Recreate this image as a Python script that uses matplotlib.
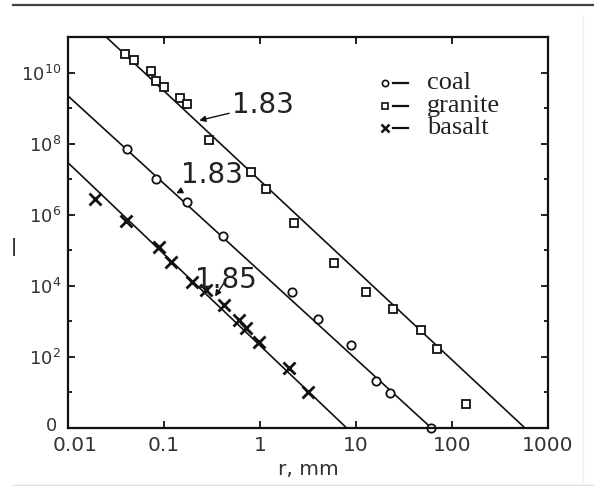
import matplotlib
matplotlib.use("Agg")
import matplotlib.pyplot as plt
import matplotlib.transforms as mtransforms
from matplotlib.lines import Line2D
from matplotlib.ticker import FixedLocator, NullFormatter

# ---- data ----
granite_r = [0.0396, 0.049, 0.0738, 0.083, 0.101, 0.148, 0.175, 0.295, 0.81, 1.15,
             2.25, 5.9, 12.6, 24, 47, 69, 141]
granite_n = [3.4e10, 2.3e10, 1.1e10, 5.6e9, 3.8e9, 1.9e9, 1.3e9, 1.3e8, 1.6e7, 5.4e6,
             5.9e5, 4.4e4, 6.8e3, 2.2e3, 5.8e2, 1.7e2, 4.8]
coal_r = [0.0416, 0.083, 0.175, 0.41, 2.15, 4.0, 8.8, 16, 22.4, 61]
coal_n = [7.2e7, 1.0e7, 2.3e6, 2.6e5, 6.8e3, 1.2e3, 2.2e2, 21, 9.7, 1]
basalt_r = [0.0189, 0.0406, 0.0893, 0.119, 0.197, 0.275, 0.423, 0.605, 0.716, 0.977, 2.0, 3.2]
basalt_n = [2.8e6, 6.8e5, 1.2e5, 4.8e4, 1.3e4, 7.7e3, 2.9e3, 1.1e3, 6.5e2, 2.6e2, 49, 10]

granite_fit_r = [0.025, 575]
granite_fit_n = [1e11, 1]
coal_fit_r = [0.01, 61]
coal_fit_n = [2.2e9, 1]
basalt_fit_r = [0.01, 8]
basalt_fit_n = [2.9e7, 1]

slope_labels = ["1.83", "1.83", "1.85"]
legend_labels = ["coal", "granite", "basalt"]

x_ticks = [0.01, 0.1, 1, 10, 100, 1000]
x_ticklabels = ["0.01", "0.1", "1", "10", "100", "1000"]
y_ticks = [1, 1e2, 1e4, 1e6, 1e8, 1e10]
y_ticklabels = ["0", "$10^{2}$", "$10^{4}$", "$10^{6}$", "$10^{8}$", "$10^{10}$"]
y_minor = [1e1, 1e3, 1e5, 1e7, 1e9]
x_label = "r, mm"

# ---- figure ----
W, H = 594, 486
fig = plt.figure(figsize=(W / 100, H / 100), dpi=100)
fig.patch.set_facecolor("white")
ax = fig.add_axes([68 / W, 1 - 428 / H, (548 - 68) / W, (428 - 37) / H])
ax.set_xscale("log")
ax.set_yscale("log")
ax.set_xlim(0.01, 1000)
ax.set_ylim(1, 1e11)

lc = "#111111"
ax.plot(granite_fit_r, granite_fit_n, color=lc, lw=1.2)
ax.plot(coal_fit_r, coal_fit_n, color=lc, lw=1.2)
ax.plot(basalt_fit_r, basalt_fit_n, color=lc, lw=1.2)

ax.plot(granite_r, granite_n, "s", ms=6, mfc="white", mec=lc, mew=1.3, clip_on=False)
ax.plot(coal_r, coal_n, "o", ms=6, mfc="white", mec=lc, mew=1.3, clip_on=False)
ax.plot(basalt_r, basalt_n, "x", ms=8, mec=lc, mew=2.0, clip_on=False)

# slope annotations
arrow = dict(arrowstyle="-|>", color=lc, lw=1.0, mutation_scale=9, shrinkA=0, shrinkB=0)
ax.annotate(slope_labels[0], xy=(0.233, 4.5e8), xytext=(0.51, 1.2e9),
            fontsize=20, va="center", ha="left", color="#222222",
            arrowprops=arrow)
ax.annotate(slope_labels[1], xy=(0.134, 4.0e6), xytext=(0.152, 1.3e7),
            fontsize=20, va="center", ha="left", color="#222222",
            arrowprops=arrow)
ax.annotate(slope_labels[2], xy=(0.34, 5.0e3), xytext=(0.21, 1.44e4),
            fontsize=20, va="center", ha="left", color="#222222",
            arrowprops=arrow)

# axes styling
ax.xaxis.set_major_locator(FixedLocator(x_ticks))
ax.set_xticklabels(x_ticklabels)
ax.xaxis.set_minor_locator(FixedLocator([]))
ax.yaxis.set_major_locator(FixedLocator(y_ticks))
ax.set_yticklabels(y_ticklabels)
ax.yaxis.set_minor_locator(FixedLocator(y_minor))
ax.yaxis.set_minor_formatter(NullFormatter())
ax.tick_params(which="major", direction="in", length=5, width=1.3, color=lc,
               labelsize=13, labelcolor="#333333", top=True, right=True)
ax.tick_params(axis="x", which="major", pad=6, labelsize=14.5)
ax.tick_params(axis="y", which="major", pad=5)
ax.tick_params(which="minor", direction="in", length=3, width=1.3, color=lc, right=True)
for s in ax.spines.values():
    s.set_linewidth(1.6)
    s.set_color(lc)
ax.set_xlabel(x_label, fontsize=14.5, color="#333333", labelpad=3)

# nudge the two corner labels apart, as in the scan
first_x = ax.get_xticklabels()[0]
first_x.set_transform(first_x.get_transform() +
                      mtransforms.ScaledTranslation(7 / 100, 0, fig.dpi_scale_trans))
first_y = ax.get_yticklabels()[0]
first_y.set_transform(first_y.get_transform() +
                      mtransforms.ScaledTranslation(-4 / 100, 4 / 100, fig.dpi_scale_trans))

# legend (drawn by hand to mimic "o- coal")
legend_markers = [("o", 4.5, 1.2), ("s", 4.5, 1.2), ("x", 5.5, 1.8)]
rows_y = [0.882, 0.824, 0.768]
for (m, ms, mew), lab, yy in zip(legend_markers, legend_labels, rows_y):
    ax.plot([0.660], [yy], m, ms=ms, mfc="white", mec=lc, mew=mew, transform=ax.transAxes)
    ax.plot([0.678, 0.708], [yy, yy], color=lc, lw=1.6, transform=ax.transAxes)
    ax.text(0.748, yy, lab, transform=ax.transAxes, fontsize=19,
            family="Liberation Serif", va="center", ha="left", color="#222222")

# clipped y label fragment and scan borders
fig.text(14 / W, 1 - 247 / H, "|", fontsize=12, fontweight="bold",
         ha="center", va="center", color="#333333")
fig.add_artist(Line2D([13 / W, 1], [1 - 5 / H, 1 - 5 / H], transform=fig.transFigure,
                      color="#444444", lw=1.6))
fig.add_artist(Line2D([13 / W, 1], [1 - 485 / H, 1 - 485 / H], transform=fig.transFigure,
                      color="#dddddd", lw=1.0))
fig.add_artist(Line2D([583 / W, 583 / W], [1 - 485 / H, 1 - 15 / H], transform=fig.transFigure,
                      color="#eeeeee", lw=1.0))

fig.savefig("out.png", dpi=100)
